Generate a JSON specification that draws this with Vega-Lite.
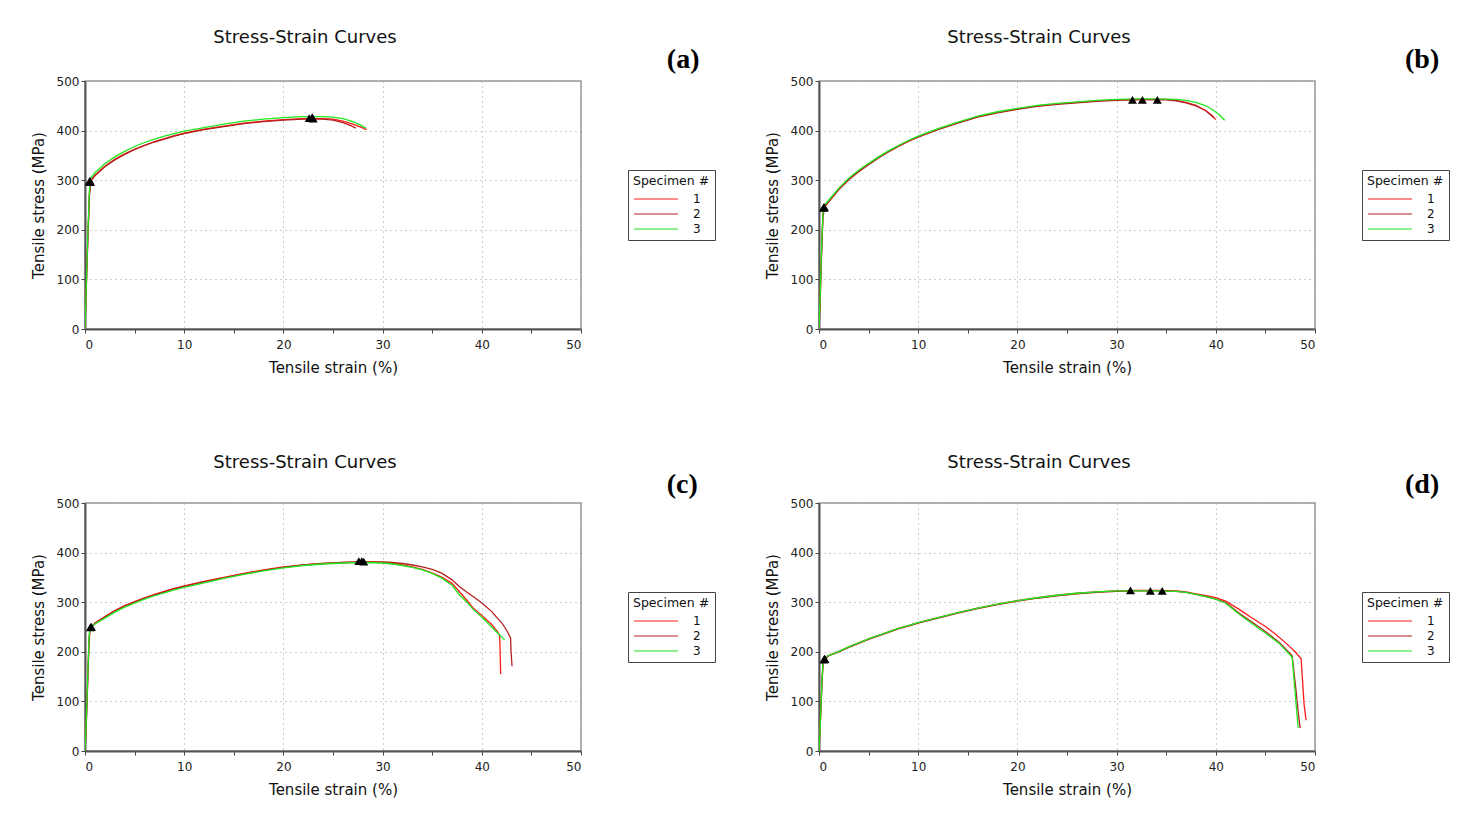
{
"$schema":"https://vega.github.io/schema/vega-lite/v6.json",
"background":"white",
"padding":{"left":30,"top":28,"right":5,"bottom":5},
"datasets":{
"curves":[
{"p":"a","s":1,"x":0,"y":0},{"p":"a","s":1,"x":0.15,"y":95},{"p":"a","s":1,"x":0.3,"y":190},{"p":"a","s":1,"x":0.45,"y":275},{"p":"a","s":1,"x":0.6,"y":300},{"p":"a","s":1,"x":1,"y":310},{"p":"a","s":1,"x":2,"y":328},{"p":"a","s":1,"x":3,"y":342},{"p":"a","s":1,"x":4,"y":353},{"p":"a","s":1,"x":5,"y":362},{"p":"a","s":1,"x":6,"y":370},{"p":"a","s":1,"x":7,"y":378},{"p":"a","s":1,"x":8,"y":384},{"p":"a","s":1,"x":9,"y":390},{"p":"a","s":1,"x":10,"y":395},{"p":"a","s":1,"x":12,"y":403},{"p":"a","s":1,"x":14,"y":409},{"p":"a","s":1,"x":16,"y":415},{"p":"a","s":1,"x":18,"y":419},{"p":"a","s":1,"x":20,"y":422},{"p":"a","s":1,"x":22,"y":424},{"p":"a","s":1,"x":24,"y":424},{"p":"a","s":1,"x":25,"y":423},{"p":"a","s":1,"x":26,"y":419},{"p":"a","s":1,"x":27,"y":413},{"p":"a","s":1,"x":27.8,"y":407},{"p":"a","s":1,"x":28.4,"y":402},
{"p":"a","s":2,"x":0,"y":0},{"p":"a","s":2,"x":0.12,"y":80},{"p":"a","s":2,"x":0.28,"y":180},{"p":"a","s":2,"x":0.45,"y":270},{"p":"a","s":2,"x":0.6,"y":298},{"p":"a","s":2,"x":1,"y":309},{"p":"a","s":2,"x":2,"y":327},{"p":"a","s":2,"x":3,"y":341},{"p":"a","s":2,"x":4,"y":352},{"p":"a","s":2,"x":5,"y":362},{"p":"a","s":2,"x":6,"y":370},{"p":"a","s":2,"x":7,"y":377},{"p":"a","s":2,"x":8,"y":383},{"p":"a","s":2,"x":9,"y":389},{"p":"a","s":2,"x":10,"y":394},{"p":"a","s":2,"x":12,"y":402},{"p":"a","s":2,"x":14,"y":408},{"p":"a","s":2,"x":16,"y":414},{"p":"a","s":2,"x":18,"y":418},{"p":"a","s":2,"x":20,"y":421},{"p":"a","s":2,"x":22,"y":423},{"p":"a","s":2,"x":24,"y":423},{"p":"a","s":2,"x":25,"y":421},{"p":"a","s":2,"x":26,"y":416},{"p":"a","s":2,"x":26.8,"y":410},{"p":"a","s":2,"x":27.3,"y":405},
{"p":"a","s":3,"x":0,"y":0},{"p":"a","s":3,"x":0.15,"y":100},{"p":"a","s":3,"x":0.3,"y":200},{"p":"a","s":3,"x":0.45,"y":280},{"p":"a","s":3,"x":0.6,"y":305},{"p":"a","s":3,"x":1,"y":315},{"p":"a","s":3,"x":2,"y":333},{"p":"a","s":3,"x":3,"y":347},{"p":"a","s":3,"x":4,"y":358},{"p":"a","s":3,"x":5,"y":368},{"p":"a","s":3,"x":6,"y":376},{"p":"a","s":3,"x":7,"y":383},{"p":"a","s":3,"x":8,"y":389},{"p":"a","s":3,"x":9,"y":394},{"p":"a","s":3,"x":10,"y":399},{"p":"a","s":3,"x":12,"y":406},{"p":"a","s":3,"x":14,"y":413},{"p":"a","s":3,"x":16,"y":419},{"p":"a","s":3,"x":18,"y":423},{"p":"a","s":3,"x":20,"y":426},{"p":"a","s":3,"x":22,"y":428},{"p":"a","s":3,"x":24,"y":428},{"p":"a","s":3,"x":25,"y":427},{"p":"a","s":3,"x":26,"y":424},{"p":"a","s":3,"x":27,"y":418},{"p":"a","s":3,"x":27.8,"y":411},{"p":"a","s":3,"x":28.3,"y":405},

{"p":"b","s":1,"x":0,"y":0},{"p":"b","s":1,"x":0.1,"y":50},{"p":"b","s":1,"x":0.2,"y":120},{"p":"b","s":1,"x":0.3,"y":180},{"p":"b","s":1,"x":0.4,"y":230},{"p":"b","s":1,"x":0.55,"y":248},{"p":"b","s":1,"x":1,"y":258},{"p":"b","s":1,"x":2,"y":282},{"p":"b","s":1,"x":3,"y":302},{"p":"b","s":1,"x":4,"y":318},{"p":"b","s":1,"x":5,"y":332},{"p":"b","s":1,"x":6,"y":346},{"p":"b","s":1,"x":7,"y":358},{"p":"b","s":1,"x":8,"y":369},{"p":"b","s":1,"x":9,"y":379},{"p":"b","s":1,"x":10,"y":388},{"p":"b","s":1,"x":12,"y":403},{"p":"b","s":1,"x":14,"y":416},{"p":"b","s":1,"x":16,"y":428},{"p":"b","s":1,"x":18,"y":437},{"p":"b","s":1,"x":20,"y":444},{"p":"b","s":1,"x":22,"y":450},{"p":"b","s":1,"x":24,"y":454},{"p":"b","s":1,"x":26,"y":457},{"p":"b","s":1,"x":28,"y":460},{"p":"b","s":1,"x":30,"y":462},{"p":"b","s":1,"x":32,"y":463},{"p":"b","s":1,"x":34,"y":463},{"p":"b","s":1,"x":35,"y":463},{"p":"b","s":1,"x":36,"y":461},{"p":"b","s":1,"x":37,"y":457},{"p":"b","s":1,"x":38,"y":451},{"p":"b","s":1,"x":39,"y":440},{"p":"b","s":1,"x":39.6,"y":431},{"p":"b","s":1,"x":40,"y":422},
{"p":"b","s":2,"x":0,"y":0},{"p":"b","s":2,"x":0.1,"y":45},{"p":"b","s":2,"x":0.2,"y":110},{"p":"b","s":2,"x":0.3,"y":175},{"p":"b","s":2,"x":0.4,"y":225},{"p":"b","s":2,"x":0.55,"y":246},{"p":"b","s":2,"x":1,"y":257},{"p":"b","s":2,"x":2,"y":281},{"p":"b","s":2,"x":3,"y":301},{"p":"b","s":2,"x":4,"y":317},{"p":"b","s":2,"x":5,"y":331},{"p":"b","s":2,"x":6,"y":345},{"p":"b","s":2,"x":7,"y":357},{"p":"b","s":2,"x":8,"y":368},{"p":"b","s":2,"x":9,"y":378},{"p":"b","s":2,"x":10,"y":387},{"p":"b","s":2,"x":12,"y":402},{"p":"b","s":2,"x":14,"y":415},{"p":"b","s":2,"x":16,"y":427},{"p":"b","s":2,"x":18,"y":436},{"p":"b","s":2,"x":20,"y":443},{"p":"b","s":2,"x":22,"y":449},{"p":"b","s":2,"x":24,"y":453},{"p":"b","s":2,"x":26,"y":456},{"p":"b","s":2,"x":28,"y":459},{"p":"b","s":2,"x":30,"y":461},{"p":"b","s":2,"x":32,"y":462},{"p":"b","s":2,"x":34,"y":462},{"p":"b","s":2,"x":35,"y":462},{"p":"b","s":2,"x":36,"y":460},{"p":"b","s":2,"x":37,"y":456},{"p":"b","s":2,"x":38,"y":450},{"p":"b","s":2,"x":39,"y":440},{"p":"b","s":2,"x":39.8,"y":426},
{"p":"b","s":3,"x":0,"y":0},{"p":"b","s":3,"x":0.1,"y":55},{"p":"b","s":3,"x":0.2,"y":125},{"p":"b","s":3,"x":0.3,"y":185},{"p":"b","s":3,"x":0.4,"y":235},{"p":"b","s":3,"x":0.55,"y":250},{"p":"b","s":3,"x":1,"y":260},{"p":"b","s":3,"x":2,"y":284},{"p":"b","s":3,"x":3,"y":304},{"p":"b","s":3,"x":4,"y":320},{"p":"b","s":3,"x":5,"y":334},{"p":"b","s":3,"x":6,"y":347},{"p":"b","s":3,"x":7,"y":359},{"p":"b","s":3,"x":8,"y":370},{"p":"b","s":3,"x":9,"y":380},{"p":"b","s":3,"x":10,"y":389},{"p":"b","s":3,"x":12,"y":404},{"p":"b","s":3,"x":14,"y":417},{"p":"b","s":3,"x":16,"y":429},{"p":"b","s":3,"x":18,"y":438},{"p":"b","s":3,"x":20,"y":445},{"p":"b","s":3,"x":22,"y":451},{"p":"b","s":3,"x":24,"y":455},{"p":"b","s":3,"x":26,"y":458},{"p":"b","s":3,"x":28,"y":461},{"p":"b","s":3,"x":30,"y":463},{"p":"b","s":3,"x":32,"y":464},{"p":"b","s":3,"x":34,"y":464},{"p":"b","s":3,"x":36,"y":463},{"p":"b","s":3,"x":37,"y":461},{"p":"b","s":3,"x":38,"y":457},{"p":"b","s":3,"x":39,"y":450},{"p":"b","s":3,"x":39.6,"y":443},{"p":"b","s":3,"x":40.3,"y":433},{"p":"b","s":3,"x":40.9,"y":421},

{"p":"c","s":1,"x":0,"y":0},{"p":"c","s":1,"x":0.1,"y":40},{"p":"c","s":1,"x":0.2,"y":100},{"p":"c","s":1,"x":0.3,"y":160},{"p":"c","s":1,"x":0.4,"y":220},{"p":"c","s":1,"x":0.5,"y":248},{"p":"c","s":1,"x":1,"y":258},{"p":"c","s":1,"x":2,"y":271},{"p":"c","s":1,"x":3,"y":283},{"p":"c","s":1,"x":4,"y":293},{"p":"c","s":1,"x":5,"y":301},{"p":"c","s":1,"x":6,"y":309},{"p":"c","s":1,"x":7,"y":316},{"p":"c","s":1,"x":8,"y":322},{"p":"c","s":1,"x":9,"y":328},{"p":"c","s":1,"x":10,"y":333},{"p":"c","s":1,"x":12,"y":342},{"p":"c","s":1,"x":14,"y":350},{"p":"c","s":1,"x":16,"y":358},{"p":"c","s":1,"x":18,"y":365},{"p":"c","s":1,"x":20,"y":371},{"p":"c","s":1,"x":22,"y":375},{"p":"c","s":1,"x":24,"y":378},{"p":"c","s":1,"x":26,"y":380},{"p":"c","s":1,"x":28,"y":381},{"p":"c","s":1,"x":30,"y":380},{"p":"c","s":1,"x":31,"y":378},{"p":"c","s":1,"x":32,"y":375},{"p":"c","s":1,"x":33,"y":371},{"p":"c","s":1,"x":34,"y":366},{"p":"c","s":1,"x":35,"y":359},{"p":"c","s":1,"x":36,"y":350},{"p":"c","s":1,"x":37,"y":338},{"p":"c","s":1,"x":37.7,"y":322},{"p":"c","s":1,"x":38.5,"y":304},{"p":"c","s":1,"x":39.1,"y":289},{"p":"c","s":1,"x":40,"y":273},{"p":"c","s":1,"x":41,"y":255},{"p":"c","s":1,"x":41.6,"y":240},{"p":"c","s":1,"x":41.8,"y":232},{"p":"c","s":1,"x":41.85,"y":200},{"p":"c","s":1,"x":41.9,"y":155},
{"p":"c","s":2,"x":0,"y":0},{"p":"c","s":2,"x":0.1,"y":35},{"p":"c","s":2,"x":0.2,"y":95},{"p":"c","s":2,"x":0.3,"y":155},{"p":"c","s":2,"x":0.4,"y":215},{"p":"c","s":2,"x":0.5,"y":247},{"p":"c","s":2,"x":1,"y":257},{"p":"c","s":2,"x":2,"y":270},{"p":"c","s":2,"x":3,"y":282},{"p":"c","s":2,"x":4,"y":292},{"p":"c","s":2,"x":5,"y":300},{"p":"c","s":2,"x":6,"y":308},{"p":"c","s":2,"x":7,"y":315},{"p":"c","s":2,"x":8,"y":321},{"p":"c","s":2,"x":9,"y":327},{"p":"c","s":2,"x":10,"y":332},{"p":"c","s":2,"x":12,"y":341},{"p":"c","s":2,"x":14,"y":349},{"p":"c","s":2,"x":16,"y":357},{"p":"c","s":2,"x":18,"y":364},{"p":"c","s":2,"x":20,"y":370},{"p":"c","s":2,"x":22,"y":375},{"p":"c","s":2,"x":24,"y":378},{"p":"c","s":2,"x":26,"y":380},{"p":"c","s":2,"x":28,"y":381},{"p":"c","s":2,"x":30,"y":381},{"p":"c","s":2,"x":31,"y":380},{"p":"c","s":2,"x":32,"y":378},{"p":"c","s":2,"x":33,"y":375},{"p":"c","s":2,"x":34,"y":371},{"p":"c","s":2,"x":35,"y":366},{"p":"c","s":2,"x":36,"y":358},{"p":"c","s":2,"x":37,"y":345},{"p":"c","s":2,"x":37.7,"y":332},{"p":"c","s":2,"x":38.5,"y":320},{"p":"c","s":2,"x":39.3,"y":309},{"p":"c","s":2,"x":40.1,"y":297},{"p":"c","s":2,"x":41,"y":281},{"p":"c","s":2,"x":42.1,"y":256},{"p":"c","s":2,"x":42.6,"y":240},{"p":"c","s":2,"x":42.9,"y":228},{"p":"c","s":2,"x":42.95,"y":200},{"p":"c","s":2,"x":43.05,"y":171},
{"p":"c","s":3,"x":0,"y":0},{"p":"c","s":3,"x":0.1,"y":45},{"p":"c","s":3,"x":0.2,"y":105},{"p":"c","s":3,"x":0.3,"y":165},{"p":"c","s":3,"x":0.4,"y":225},{"p":"c","s":3,"x":0.5,"y":250},{"p":"c","s":3,"x":1,"y":256},{"p":"c","s":3,"x":2,"y":268},{"p":"c","s":3,"x":3,"y":280},{"p":"c","s":3,"x":4,"y":290},{"p":"c","s":3,"x":5,"y":298},{"p":"c","s":3,"x":6,"y":306},{"p":"c","s":3,"x":7,"y":313},{"p":"c","s":3,"x":8,"y":319},{"p":"c","s":3,"x":9,"y":325},{"p":"c","s":3,"x":10,"y":330},{"p":"c","s":3,"x":12,"y":339},{"p":"c","s":3,"x":14,"y":348},{"p":"c","s":3,"x":16,"y":356},{"p":"c","s":3,"x":18,"y":363},{"p":"c","s":3,"x":20,"y":369},{"p":"c","s":3,"x":22,"y":374},{"p":"c","s":3,"x":24,"y":377},{"p":"c","s":3,"x":26,"y":379},{"p":"c","s":3,"x":28,"y":380},{"p":"c","s":3,"x":30,"y":379},{"p":"c","s":3,"x":31,"y":377},{"p":"c","s":3,"x":32,"y":374},{"p":"c","s":3,"x":33,"y":370},{"p":"c","s":3,"x":34,"y":365},{"p":"c","s":3,"x":35,"y":358},{"p":"c","s":3,"x":36,"y":348},{"p":"c","s":3,"x":37,"y":334},{"p":"c","s":3,"x":37.7,"y":316},{"p":"c","s":3,"x":38.5,"y":300},{"p":"c","s":3,"x":39.1,"y":286},{"p":"c","s":3,"x":40,"y":270},{"p":"c","s":3,"x":41.1,"y":248},{"p":"c","s":3,"x":41.7,"y":236},{"p":"c","s":3,"x":42.3,"y":224},

{"p":"d","s":1,"x":0,"y":0},{"p":"d","s":1,"x":0.1,"y":40},{"p":"d","s":1,"x":0.2,"y":90},{"p":"d","s":1,"x":0.3,"y":140},{"p":"d","s":1,"x":0.4,"y":175},{"p":"d","s":1,"x":0.55,"y":187},{"p":"d","s":1,"x":1,"y":193},{"p":"d","s":1,"x":2,"y":201},{"p":"d","s":1,"x":3,"y":210},{"p":"d","s":1,"x":4,"y":218},{"p":"d","s":1,"x":5,"y":226},{"p":"d","s":1,"x":6,"y":233},{"p":"d","s":1,"x":7,"y":240},{"p":"d","s":1,"x":8,"y":247},{"p":"d","s":1,"x":9,"y":253},{"p":"d","s":1,"x":10,"y":259},{"p":"d","s":1,"x":12,"y":269},{"p":"d","s":1,"x":14,"y":279},{"p":"d","s":1,"x":16,"y":288},{"p":"d","s":1,"x":18,"y":296},{"p":"d","s":1,"x":20,"y":303},{"p":"d","s":1,"x":22,"y":309},{"p":"d","s":1,"x":24,"y":314},{"p":"d","s":1,"x":26,"y":318},{"p":"d","s":1,"x":28,"y":321},{"p":"d","s":1,"x":30,"y":323},{"p":"d","s":1,"x":32,"y":324},{"p":"d","s":1,"x":34,"y":324},{"p":"d","s":1,"x":36,"y":323},{"p":"d","s":1,"x":37,"y":321},{"p":"d","s":1,"x":38,"y":317},{"p":"d","s":1,"x":39,"y":313},{"p":"d","s":1,"x":40,"y":309},{"p":"d","s":1,"x":41,"y":302},{"p":"d","s":1,"x":42.4,"y":285},{"p":"d","s":1,"x":43.5,"y":270},{"p":"d","s":1,"x":45,"y":251},{"p":"d","s":1,"x":46,"y":236},{"p":"d","s":1,"x":47.1,"y":217},{"p":"d","s":1,"x":48,"y":200},{"p":"d","s":1,"x":48.6,"y":186},{"p":"d","s":1,"x":48.75,"y":140},{"p":"d","s":1,"x":48.9,"y":94},{"p":"d","s":1,"x":49.1,"y":62},
{"p":"d","s":2,"x":0,"y":0},{"p":"d","s":2,"x":0.1,"y":38},{"p":"d","s":2,"x":0.2,"y":88},{"p":"d","s":2,"x":0.3,"y":138},{"p":"d","s":2,"x":0.4,"y":172},{"p":"d","s":2,"x":0.55,"y":185},{"p":"d","s":2,"x":1,"y":192},{"p":"d","s":2,"x":2,"y":200},{"p":"d","s":2,"x":3,"y":209},{"p":"d","s":2,"x":4,"y":217},{"p":"d","s":2,"x":5,"y":225},{"p":"d","s":2,"x":6,"y":232},{"p":"d","s":2,"x":7,"y":239},{"p":"d","s":2,"x":8,"y":246},{"p":"d","s":2,"x":9,"y":252},{"p":"d","s":2,"x":10,"y":258},{"p":"d","s":2,"x":12,"y":268},{"p":"d","s":2,"x":14,"y":278},{"p":"d","s":2,"x":16,"y":287},{"p":"d","s":2,"x":18,"y":295},{"p":"d","s":2,"x":20,"y":302},{"p":"d","s":2,"x":22,"y":308},{"p":"d","s":2,"x":24,"y":313},{"p":"d","s":2,"x":26,"y":317},{"p":"d","s":2,"x":28,"y":320},{"p":"d","s":2,"x":30,"y":322},{"p":"d","s":2,"x":32,"y":323},{"p":"d","s":2,"x":34,"y":323},{"p":"d","s":2,"x":36,"y":322},{"p":"d","s":2,"x":37,"y":320},{"p":"d","s":2,"x":38,"y":316},{"p":"d","s":2,"x":39,"y":311},{"p":"d","s":2,"x":40,"y":306},{"p":"d","s":2,"x":41,"y":299},{"p":"d","s":2,"x":42.4,"y":277},{"p":"d","s":2,"x":43.5,"y":262},{"p":"d","s":2,"x":45,"y":241},{"p":"d","s":2,"x":46.4,"y":219},{"p":"d","s":2,"x":47.7,"y":192},{"p":"d","s":2,"x":48.1,"y":120},{"p":"d","s":2,"x":48.3,"y":80},{"p":"d","s":2,"x":48.5,"y":46},
{"p":"d","s":3,"x":0,"y":0},{"p":"d","s":3,"x":0.1,"y":42},{"p":"d","s":3,"x":0.2,"y":92},{"p":"d","s":3,"x":0.3,"y":142},{"p":"d","s":3,"x":0.4,"y":178},{"p":"d","s":3,"x":0.55,"y":188},{"p":"d","s":3,"x":1,"y":193},{"p":"d","s":3,"x":2,"y":201},{"p":"d","s":3,"x":3,"y":210},{"p":"d","s":3,"x":4,"y":218},{"p":"d","s":3,"x":5,"y":226},{"p":"d","s":3,"x":6,"y":233},{"p":"d","s":3,"x":7,"y":240},{"p":"d","s":3,"x":8,"y":247},{"p":"d","s":3,"x":9,"y":253},{"p":"d","s":3,"x":10,"y":259},{"p":"d","s":3,"x":12,"y":269},{"p":"d","s":3,"x":14,"y":279},{"p":"d","s":3,"x":16,"y":288},{"p":"d","s":3,"x":18,"y":296},{"p":"d","s":3,"x":20,"y":303},{"p":"d","s":3,"x":22,"y":309},{"p":"d","s":3,"x":24,"y":314},{"p":"d","s":3,"x":26,"y":318},{"p":"d","s":3,"x":28,"y":321},{"p":"d","s":3,"x":30,"y":323},{"p":"d","s":3,"x":32,"y":323},{"p":"d","s":3,"x":34,"y":323},{"p":"d","s":3,"x":36,"y":322},{"p":"d","s":3,"x":37,"y":320},{"p":"d","s":3,"x":38,"y":316},{"p":"d","s":3,"x":39,"y":311},{"p":"d","s":3,"x":40,"y":306},{"p":"d","s":3,"x":41,"y":298},{"p":"d","s":3,"x":42.4,"y":275},{"p":"d","s":3,"x":43.5,"y":259},{"p":"d","s":3,"x":45,"y":238},{"p":"d","s":3,"x":46.4,"y":217},{"p":"d","s":3,"x":47.7,"y":189},{"p":"d","s":3,"x":47.9,"y":140},{"p":"d","s":3,"x":48.1,"y":94},{"p":"d","s":3,"x":48.3,"y":47}
],
"peaks":[
{"p":"a","x":0.45,"y":297},{"p":"a","x":0.5,"y":299},{"p":"a","x":0.55,"y":296},{"p":"a","x":22.6,"y":425},{"p":"a","x":22.9,"y":427},{"p":"a","x":23.0,"y":424},
{"p":"b","x":0.45,"y":244},{"p":"b","x":0.5,"y":246},{"p":"b","x":0.55,"y":245},{"p":"b","x":31.6,"y":462},{"p":"b","x":32.6,"y":462},{"p":"b","x":34.1,"y":462},
{"p":"c","x":0.55,"y":249},{"p":"c","x":0.6,"y":251},{"p":"c","x":0.65,"y":250},{"p":"c","x":27.6,"y":383},{"p":"c","x":27.9,"y":383},{"p":"c","x":28.1,"y":382},
{"p":"d","x":0.5,"y":184},{"p":"d","x":0.55,"y":186},{"p":"d","x":0.6,"y":185},{"p":"d","x":31.4,"y":324},{"p":"d","x":33.4,"y":323},{"p":"d","x":34.6,"y":323}
]
},
"vconcat":[
{"hconcat":[
{"width":496,"height":248,"title":{"text":"Stress-Strain Curves","dx":-28},
"layer":[
{"data":{"name":"curves"},"transform":[{"filter":"datum.p==='a'"}],"mark":{"type":"line","strokeWidth":1.3,"clip":true},
"encoding":{"x":{"field":"x","type":"quantitative","scale":{"domain":[0,50],"nice":false},"axis":{"title":"Tensile strain (%)","values":[0,5,10,15,20,25,30,35,40,45,50],"labelExpr":"datum.value % 10 === 0 ? datum.label : ''","gridOpacity":{"condition":{"test":"datum.value % 10 === 0","value":1},"value":0}}},
"y":{"field":"y","type":"quantitative","scale":{"domain":[0,500],"nice":false},"axis":{"title":"Tensile stress (MPa)","values":[0,50,100,150,200,250,300,350,400,450,500],"labelExpr":"datum.value % 100 === 0 ? datum.label : ''","gridOpacity":{"condition":{"test":"datum.value % 100 === 0","value":1},"value":0}}},
"color":{"field":"s","type":"nominal","scale":{"domain":[1,2,3],"range":["#ff1a1a","#b42020","#1ee81e"]},"legend":{"title":"Specimen #"}}}},
{"data":{"name":"peaks"},"transform":[{"filter":"datum.p==='a'"}],"mark":{"type":"point","shape":"triangle-up","filled":true,"color":"#000","opacity":1,"size":80},
"encoding":{"x":{"field":"x","type":"quantitative","scale":{"domain":[0,50],"nice":false}},"y":{"field":"y","type":"quantitative","scale":{"domain":[0,500],"nice":false}}}},
{"data":{"values":[{"t":"(a)"}]},"mark":{"type":"text","font":"Liberation Serif","fontWeight":"bold","fontSize":28,"color":"#000","baseline":"middle"},
"encoding":{"text":{"field":"t"},"x":{"datum":60.3},"y":{"datum":542}}}
]},
{"width":496,"height":248,"title":{"text":"Stress-Strain Curves","dx":-28},
"layer":[
{"data":{"name":"curves"},"transform":[{"filter":"datum.p==='b'"}],"mark":{"type":"line","strokeWidth":1.3,"clip":true},
"encoding":{"x":{"field":"x","type":"quantitative","scale":{"domain":[0,50],"nice":false},"axis":{"title":"Tensile strain (%)","values":[0,5,10,15,20,25,30,35,40,45,50],"labelExpr":"datum.value % 10 === 0 ? datum.label : ''","gridOpacity":{"condition":{"test":"datum.value % 10 === 0","value":1},"value":0}}},
"y":{"field":"y","type":"quantitative","scale":{"domain":[0,500],"nice":false},"axis":{"title":"Tensile stress (MPa)","values":[0,50,100,150,200,250,300,350,400,450,500],"labelExpr":"datum.value % 100 === 0 ? datum.label : ''","gridOpacity":{"condition":{"test":"datum.value % 100 === 0","value":1},"value":0}}},
"color":{"field":"s","type":"nominal","scale":{"domain":[1,2,3],"range":["#ff1a1a","#b42020","#1ee81e"]},"legend":{"title":"Specimen #"}}}},
{"data":{"name":"peaks"},"transform":[{"filter":"datum.p==='b'"}],"mark":{"type":"point","shape":"triangle-up","filled":true,"color":"#000","opacity":1,"size":80},
"encoding":{"x":{"field":"x","type":"quantitative","scale":{"domain":[0,50],"nice":false}},"y":{"field":"y","type":"quantitative","scale":{"domain":[0,500],"nice":false}}}},
{"data":{"values":[{"t":"(b)"}]},"mark":{"type":"text","font":"Liberation Serif","fontWeight":"bold","fontSize":28,"color":"#000","baseline":"middle"},
"encoding":{"text":{"field":"t"},"x":{"datum":60.8},"y":{"datum":542}}}
]}
],"spacing":47,"resolve":{"scale":{"color":"independent"},"legend":{"color":"independent"}}},
{"hconcat":[
{"width":496,"height":248,"title":{"text":"Stress-Strain Curves","dx":-28},
"layer":[
{"data":{"name":"curves"},"transform":[{"filter":"datum.p==='c'"}],"mark":{"type":"line","strokeWidth":1.3,"clip":true},
"encoding":{"x":{"field":"x","type":"quantitative","scale":{"domain":[0,50],"nice":false},"axis":{"title":"Tensile strain (%)","values":[0,5,10,15,20,25,30,35,40,45,50],"labelExpr":"datum.value % 10 === 0 ? datum.label : ''","gridOpacity":{"condition":{"test":"datum.value % 10 === 0","value":1},"value":0}}},
"y":{"field":"y","type":"quantitative","scale":{"domain":[0,500],"nice":false},"axis":{"title":"Tensile stress (MPa)","values":[0,50,100,150,200,250,300,350,400,450,500],"labelExpr":"datum.value % 100 === 0 ? datum.label : ''","gridOpacity":{"condition":{"test":"datum.value % 100 === 0","value":1},"value":0}}},
"color":{"field":"s","type":"nominal","scale":{"domain":[1,2,3],"range":["#ff1a1a","#b42020","#1ee81e"]},"legend":{"title":"Specimen #"}}}},
{"data":{"name":"peaks"},"transform":[{"filter":"datum.p==='c'"}],"mark":{"type":"point","shape":"triangle-up","filled":true,"color":"#000","opacity":1,"size":80},
"encoding":{"x":{"field":"x","type":"quantitative","scale":{"domain":[0,50],"nice":false}},"y":{"field":"y","type":"quantitative","scale":{"domain":[0,500],"nice":false}}}},
{"data":{"values":[{"t":"(c)"}]},"mark":{"type":"text","font":"Liberation Serif","fontWeight":"bold","fontSize":28,"color":"#000","baseline":"middle"},
"encoding":{"text":{"field":"t"},"x":{"datum":60.2},"y":{"datum":537}}}
]},
{"width":496,"height":248,"title":{"text":"Stress-Strain Curves","dx":-28},
"layer":[
{"data":{"name":"curves"},"transform":[{"filter":"datum.p==='d'"}],"mark":{"type":"line","strokeWidth":1.3,"clip":true},
"encoding":{"x":{"field":"x","type":"quantitative","scale":{"domain":[0,50],"nice":false},"axis":{"title":"Tensile strain (%)","values":[0,5,10,15,20,25,30,35,40,45,50],"labelExpr":"datum.value % 10 === 0 ? datum.label : ''","gridOpacity":{"condition":{"test":"datum.value % 10 === 0","value":1},"value":0}}},
"y":{"field":"y","type":"quantitative","scale":{"domain":[0,500],"nice":false},"axis":{"title":"Tensile stress (MPa)","values":[0,50,100,150,200,250,300,350,400,450,500],"labelExpr":"datum.value % 100 === 0 ? datum.label : ''","gridOpacity":{"condition":{"test":"datum.value % 100 === 0","value":1},"value":0}}},
"color":{"field":"s","type":"nominal","scale":{"domain":[1,2,3],"range":["#ff1a1a","#b42020","#1ee81e"]},"legend":{"title":"Specimen #"}}}},
{"data":{"name":"peaks"},"transform":[{"filter":"datum.p==='d'"}],"mark":{"type":"point","shape":"triangle-up","filled":true,"color":"#000","opacity":1,"size":80},
"encoding":{"x":{"field":"x","type":"quantitative","scale":{"domain":[0,50],"nice":false}},"y":{"field":"y","type":"quantitative","scale":{"domain":[0,500],"nice":false}}}},
{"data":{"values":[{"t":"(d)"}]},"mark":{"type":"text","font":"Liberation Serif","fontWeight":"bold","fontSize":28,"color":"#000","baseline":"middle"},
"encoding":{"text":{"field":"t"},"x":{"datum":60.8},"y":{"datum":537}}}
]}
],"spacing":47,"resolve":{"scale":{"color":"independent"},"legend":{"color":"independent"}}}
],
"spacing":76,
"resolve":{"scale":{"color":"independent"},"legend":{"color":"independent"}},
"config":{
"font":"DejaVu Sans",
"view":{"stroke":"#999","strokeWidth":1.5},
"title":{"font":"DejaVu Sans","fontSize":18,"fontWeight":"normal","color":"#111","offset":-1,"frame":"group"},
"axis":{"labelFont":"DejaVu Sans","labelFontSize":12,"labelColor":"#222","titleFont":"DejaVu Sans","titleFontSize":15,"titleFontWeight":"normal","titleColor":"#111","domainColor":"#555","domainWidth":2,"tickColor":"#444","tickSize":4,"gridDash":[1,4],"gridColor":"#999","gridWidth":1,"labelPadding":2},
"axisX":{"titlePadding":10,"labelPadding":6},
"axisY":{"titlePadding":10},
"legend":{"orient":"right","offset":47,"symbolType":"M-1,0H7","symbolSize":121,"symbolStrokeWidth":1.2,"titleFontWeight":"normal","titleFontSize":12.5,"titleFont":"DejaVu Sans","titleColor":"#111","labelFont":"DejaVu Sans","labelFontSize":12,"labelColor":"#111","padding":5,"strokeColor":"#444","fillColor":"white","labelOffset":47,"rowPadding":2,"titlePadding":5,"layout":{"right":{"anchor":"middle"}}}
}
}
